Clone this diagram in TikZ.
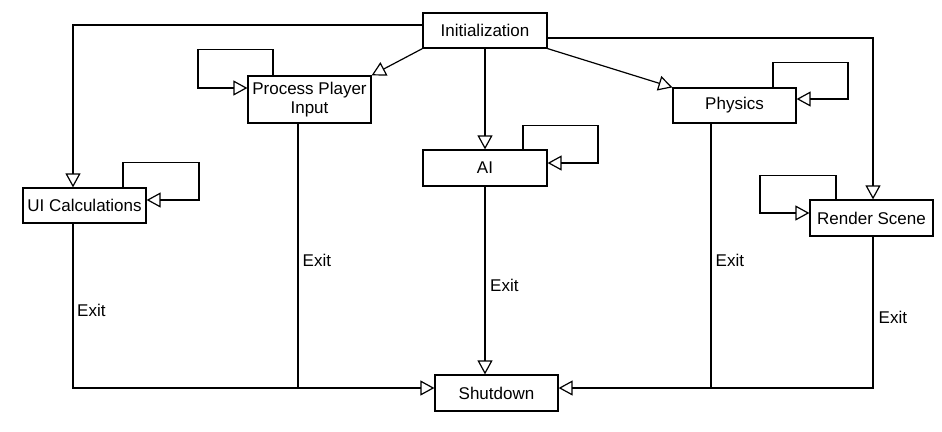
\documentclass[tikz,border=0pt]{standalone}
\usepackage{fontspec}
\setmainfont{Liberation Sans}
\usetikzlibrary{arrows.meta}
\begin{document}
\begin{tikzpicture}[x=1pt,y=-1pt,
  box/.style={draw, line width=1.2pt, fill=white, inner sep=0pt, align=center,
    font=\fontsize{17}{19}\selectfont},
  conn/.style={line width=1.2pt, -{Triangle[open, length=14pt, width=15pt, line width=1.2pt]}},
  plain/.style={line width=1.2pt},
  lbl/.style={anchor=west, inner sep=0pt, font=\fontsize{17}{19}\selectfont}]
\useasboundingbox (0,0) rectangle (942,431);
\node[box, minimum width=124pt, minimum height=35pt] (init) at (485,30.5) {Initialization};
\node[box, minimum width=123pt, minimum height=47pt] (ppi) at (309.5,99.5) {Process Player\\Input};
\node[box, minimum width=123pt, minimum height=35pt] (ui) at (84.5,205.5) {UI Calculations};
\node[box, minimum width=124pt, minimum height=36pt] (ai) at (485,168) {AI};
\node[box, minimum width=123pt, minimum height=35pt] (phys) at (734.5,105.5) {Physics};
\node[box, minimum width=123pt, minimum height=36pt] (render) at (871.5,218) {Render Scene};
\node[box, minimum width=123pt, minimum height=36pt] (shut) at (496.5,393) {Shutdown};
% from initialization
\draw[conn] ([yshift=5.5pt]init.west) -| ([xshift=-11.5pt]ui.north);
\draw[conn] (init.south west) -- (ppi.north east);
\draw[conn] (init.south) -- (ai.north);
\draw[conn] (init.south east) -- (phys.north west);
\draw[conn] ([yshift=-7.5pt]init.east) -| ([xshift=1.5pt]render.north);
% self loops
\draw[conn] ([xshift=-36.5pt]ppi.north) -- ++(0,-26) -- ++(-75,0) |- ([yshift=11.5pt]ppi.west);
\draw[conn] ([xshift=38.5pt]ui.north) -- ++(0,-25) -- ++(76,0) |- ([yshift=5.5pt]ui.east);
\draw[conn] ([xshift=38pt]ai.north) -- ++(0,-24) -- ++(75,0) |- ([yshift=5pt]ai.east);
\draw[conn] ([xshift=38.5pt]phys.north) -- ++(0,-25) -- ++(75,0) |- ([yshift=6.5pt]phys.east);
\draw[conn] ([xshift=-35.5pt]render.north) -- ++(0,-24) -- ++(-76,0) |- ([yshift=5pt]render.west);
% exits
\draw[conn] ([xshift=-11.5pt]ui.south) |- ([yshift=5pt]shut.west);
\draw[plain] ([xshift=-11.5pt]ppi.south) -- ++(0,265);
\draw[conn] (ai.south) -- (ai.south |- shut.north);
\draw[conn] ([xshift=1.5pt]render.south) |- ([yshift=5pt]shut.east);
\draw[plain] ([xshift=-23.5pt]phys.south) -- ++(0,265);
% labels
\node[lbl] (e1) at (77,310) {Exit};
\node[lbl] (e2) at (302.5,260) {Exit};
\node[lbl] (e3) at (490,285) {Exit};
\node[lbl] (e4) at (715.5,260) {Exit};
\node[lbl] (e5) at (878.5,317) {Exit};
\end{tikzpicture}
\end{document}
